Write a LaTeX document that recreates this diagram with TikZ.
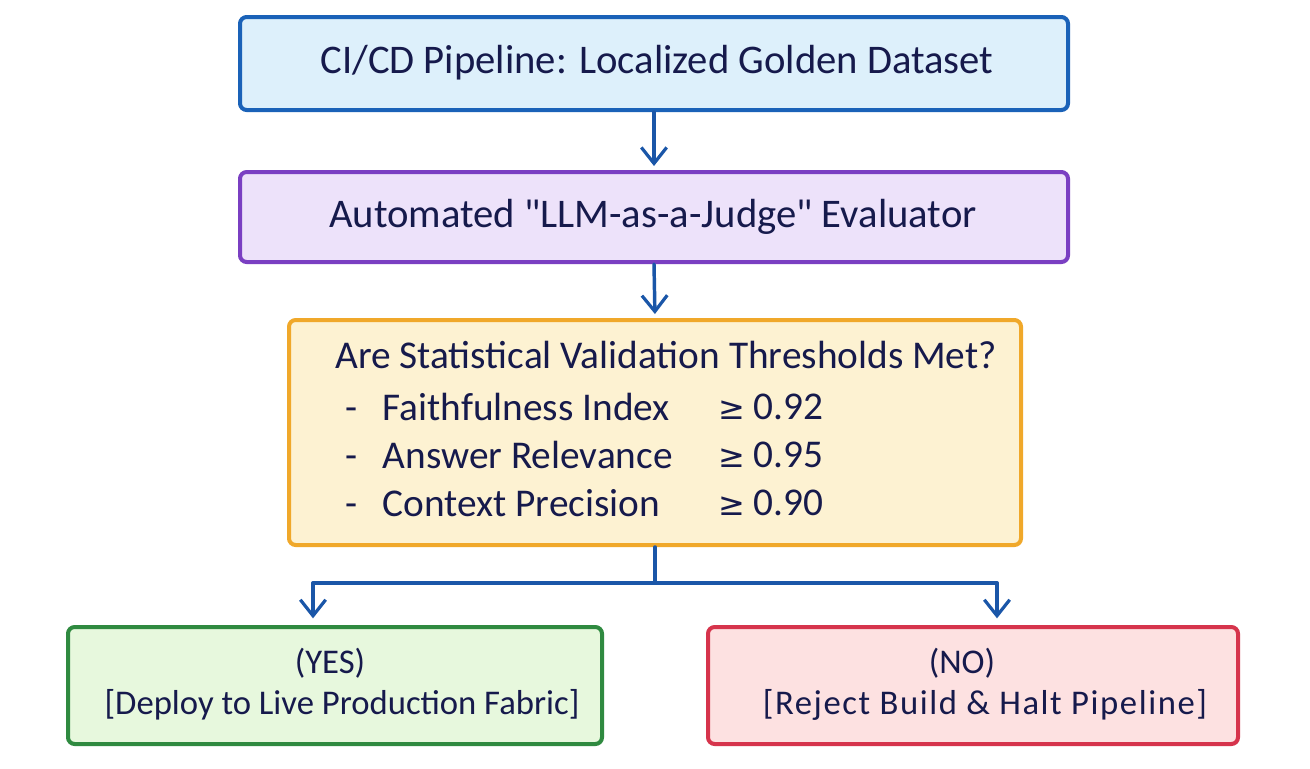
\documentclass[tikz,border=0pt]{standalone}
\usepackage{fontspec}
\setmainfont{Carlito}
\newfontfamily\symf{DejaVu Sans}
\usetikzlibrary{arrows.meta}
\definecolor{txt}{HTML}{161A4C}
\definecolor{arr}{HTML}{1A56A8}
\definecolor{bluE}{HTML}{1A62B8}
\definecolor{bluF}{HTML}{DDF0FB}
\definecolor{purE}{HTML}{7A3FC2}
\definecolor{purF}{HTML}{EDE2FA}
\definecolor{orE}{HTML}{F0A82A}
\definecolor{orF}{HTML}{FDF2D2}
\definecolor{grE}{HTML}{2F8A40}
\definecolor{grF}{HTML}{E7F8DD}
\definecolor{reE}{HTML}{D6344C}
\definecolor{reF}{HTML}{FDE1E1}
\tikzset{
  box/.style={draw, line width=3pt, rounded corners=5pt, inner sep=0pt},
  lbl/.style={text=txt, inner sep=0pt},
  big/.style={font=\fontsize{30.5}{36}\selectfont},
  mid/.style={font=\fontsize{29.5}{35}\selectfont},
  sml/.style={font=\fontsize{26}{31}\selectfont},
  conn/.style={draw=arr, line width=2.6pt, line cap=round},
  arrowc/.style={conn, -{Straight Barb[length=12pt,width=19pt,line width=2.4pt]}},
}
\begin{document}
\begin{tikzpicture}[x=0.75pt,y=-0.75pt]
\useasboundingbox[fill=white] (0,0) rectangle (1310,768);
% boxes
\node[box, draw=bluE, fill=bluF, minimum width=621pt, minimum height=69.75pt] (top) at (654,63.5) {};
\node[lbl, big] (toptxt) at (657,63) {CI/CD Pipeline: Localized Golden Dataset};
\node[box, draw=purE, fill=purF, minimum width=621pt, minimum height=67.5pt] (eval) at (654,217) {};
\node[lbl, big] (evaltxt) at (653,217) {Automated \textquotedbl LLM-as-a-Judge\textquotedbl{} Evaluator};
\node[box, draw=orE, fill=orF, minimum width=549pt, minimum height=168.75pt] (dec) at (655,432.5) {};
\node[lbl, mid, anchor=west] (q) at (335,355) {Are Statistical Validation Thresholds Met?};
\node[lbl, mid, anchor=west] (m1) at (345,407) {-\hspace{19pt}Faithfulness Index};
\node[lbl, mid, anchor=west] (m2) at (345,455) {-\hspace{19pt}Answer Relevance};
\node[lbl, mid, anchor=west] (m3) at (345,503) {-\hspace{19pt}Context Precision};
\node[lbl, mid, anchor=west] (v1) at (718,407) {{\symf\fontsize{24}{28}\selectfont ≥} 0.92};
\node[lbl, mid, anchor=west] (v2) at (718,455) {{\symf\fontsize{24}{28}\selectfont ≥} 0.95};
\node[lbl, mid, anchor=west] (v3) at (718,503) {{\symf\fontsize{24}{28}\selectfont ≥} 0.90};
\node[box, draw=grE, fill=grF, minimum width=400.5pt, minimum height=87.75pt] (yes) at (335,685.5) {};
\node[lbl, sml] (yes1) at (330,663) {(YES)};
\node[lbl, sml] (yes2) at (342,705) {[Deploy to Live Production Fabric]};
\node[box, draw=reE, fill=reF, minimum width=397.5pt, minimum height=87.75pt] (no) at (973,685.5) {};
\node[lbl, sml] (no1) at (962,663) {(NO)};
\node[lbl, sml] (no2) at (985,705) {\addfontfeatures{LetterSpace=4.5}[Reject Build \& Halt Pipeline]};
% connectors
\draw[arrowc, shorten >=3pt] (top.south) -- (eval.north);
\draw[arrowc, shorten >=3pt] (eval.south) -- (dec.north);
\coordinate (sp) at (655,583);
\coordinate (yl) at (313,583);
\coordinate (nr) at (997,583);
\draw[conn] (dec.south) -- (sp);
\draw[conn] (yl) -- (nr);
\draw[arrowc, shorten >=5pt] (yl) -- (yl |- yes.north);
\draw[arrowc, shorten >=5pt] (nr) -- (nr |- no.north);
\end{tikzpicture}
\end{document}
